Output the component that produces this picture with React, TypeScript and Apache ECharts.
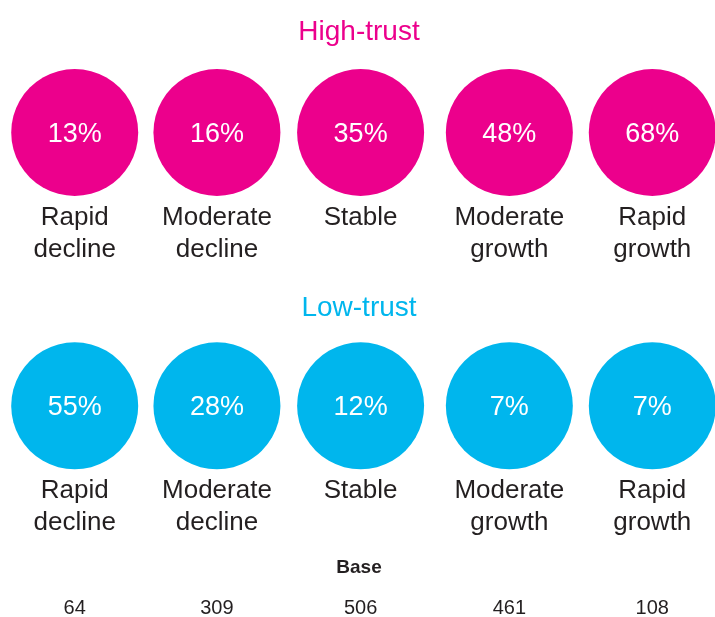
import React, { useEffect, useRef } from "react";
import * as echarts from "echarts";

const categories = ["Rapid\ndecline", "Moderate\ndecline", "Stable", "Moderate\ngrowth", "Rapid\ngrowth"];
const highTrust = [13, 16, 35, 48, 68];
const lowTrust = [55, 28, 12, 7, 7];
const baseValues = [64, 309, 506, 461, 108];
const columnX = [0, 0.985, 1.98, 3.01, 4];
const groupTitles = ["High-trust", "Low-trust"];

const MAGENTA = "#EC008C";
const CYAN = "#00B6ED";
const TEXT = "#231F20";
const FONT = "'Liberation Sans', Arial, Helvetica, sans-serif";

export default function App() {
  const ref = useRef<HTMLDivElement>(null);
  useEffect(() => {
    if (!ref.current) return;
    const chart = echarts.init(ref.current, undefined, { renderer: "svg" });

    const circleSeries = (vals: number[], row: number, color: string) => ({
      type: "scatter",
      symbol: "circle",
      symbolSize: 127,
      clip: false,
      itemStyle: { color, opacity: 1 },
      silent: true,
      data: vals.map((v, i) => ({ value: [columnX[i], row], pct: v })),
      label: {
        show: true,
        position: "inside",
        formatter: (p: any) => `${p.data.pct}%`,
        color: "#ffffff",
        fontSize: 27,
        fontFamily: FONT,
      },
    });

    const catSeries = (row: number) => ({
      type: "scatter",
      symbol: "circle",
      symbolSize: 127,
      clip: false,
      itemStyle: { color: "rgba(0,0,0,0)", opacity: 1 },
      silent: true,
      z: 3,
      data: categories.map((c, i) => ({ value: [columnX[i], row], cat: c })),
      label: {
        show: true,
        position: "bottom",
        distance: 4,
        formatter: (p: any) => p.data.cat,
        color: TEXT,
        fontSize: 26,
        lineHeight: 32,
        fontFamily: FONT,
        align: "center",
      },
    });

    chart.setOption({
      animation: false,
      grid: { left: 74.7, right: 715 - 652.3, top: 132.5, bottom: 617 - 405.8 },
      xAxis: { type: "value", min: 0, max: 4, show: false },
      yAxis: { type: "value", min: 0, max: 1, inverse: true, show: false },
      graphic: [
        {
          type: "text",
          x: 359,
          y: 30,
          style: {
            text: groupTitles[0],
            fill: MAGENTA,
            font: `28px ${FONT}`,
            textAlign: "center",
            textVerticalAlign: "middle",
          },
        },
        {
          type: "text",
          x: 359,
          y: 306,
          style: {
            text: groupTitles[1],
            fill: CYAN,
            font: `28px ${FONT}`,
            textAlign: "center",
            textVerticalAlign: "middle",
          },
        },
        {
          type: "text",
          x: 359,
          y: 566,
          style: {
            text: "Base",
            fill: TEXT,
            font: `bold 19px ${FONT}`,
            textAlign: "center",
            textVerticalAlign: "middle",
          },
        },
      ],
      series: [
        circleSeries(highTrust, 0, MAGENTA),
        circleSeries(lowTrust, 1, CYAN),
        catSeries(0),
        catSeries(1),
        {
          type: "scatter",
          symbol: "circle",
          symbolSize: 2,
          clip: false,
          itemStyle: { color: "rgba(0,0,0,0)", opacity: 1 },
          silent: true,
          data: baseValues.map((v, i) => ({ value: [columnX[i], (607 - 132.5) / (405.8 - 132.5)], b: v })),
          label: {
            show: true,
            position: "inside",
            formatter: (p: any) => String(p.data.b),
            color: TEXT,
            fontSize: 20,
            fontFamily: FONT,
          },
        },
      ],
    });
    return () => chart.dispose();
  }, []);
  return <div ref={ref} style={{ position: "fixed", left: 0, top: 0, width: 715, height: 617 }} />;
}
